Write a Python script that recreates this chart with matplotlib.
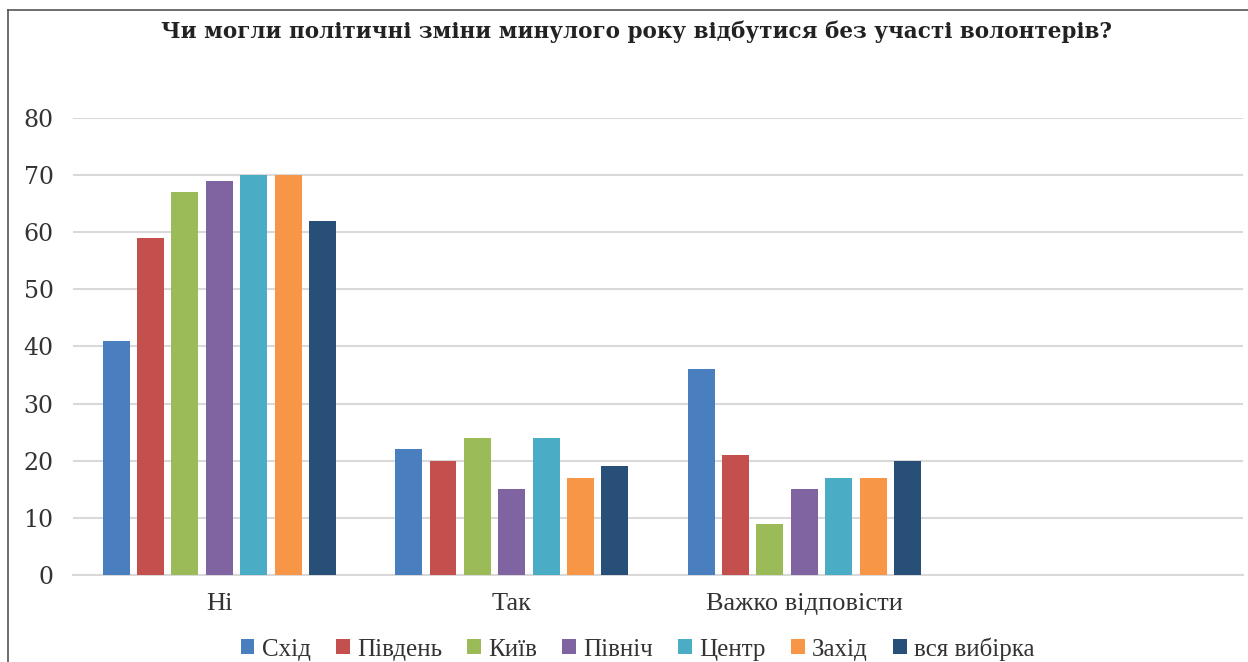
import numpy as np
import matplotlib
matplotlib.use('Agg')
import matplotlib.pyplot as plt
from matplotlib.lines import Line2D

categories = ['Ні', 'Так', 'Важко відповісти']
regions = ['Схід', 'Південь', 'Київ', 'Північ', 'Центр', 'Захід', 'вся вибірка']
east = [41, 22, 36]
south = [59, 20, 21]
kyiv = [67, 24, 9]
north = [69, 15, 15]
centre = [70, 24, 17]
west = [70, 17, 17]
total = [62, 19, 20]
series = [east, south, kyiv, north, centre, west, total]
colors = ['#4a7fbf', '#c4504e', '#9bbb59', '#8064a2', '#4bacc6', '#f79646', '#284f78']

fig = plt.figure(figsize=(12.48, 6.62), dpi=100)
ax = fig.add_axes([0.0585, 0.1314, 0.9375, 0.6904])

x = np.arange(len(categories))
pitch = 0.1176
width = 0.092
for i, (vals, c, name) in enumerate(zip(series, colors, regions)):
    ax.bar(x + (i - 3) * pitch, vals, width, color=c, label=name, zorder=3)

ax.set_xlim(-0.5, 3.5)
ax.set_ylim(0, 80)
ax.set_yticks(range(0, 81, 10))
ax.yaxis.grid(True, color='#d9d9d9', linewidth=1.5, zorder=0)
ax.set_xticks(x)
ax.set_xticklabels(categories, family='Liberation Serif', fontsize=19, color='#333333')
for lab in ax.get_yticklabels():
    lab.set_family('DejaVu Serif')
    lab.set_fontsize(17)
    lab.set_color('#333333')
ax.tick_params(axis='both', length=0)
ax.tick_params(axis='x', pad=13)
ax.tick_params(axis='y', pad=14)
for s in ['top', 'right', 'left']:
    ax.spines[s].set_visible(False)
ax.spines['bottom'].set_color('#d9d9d9')
ax.spines['bottom'].set_linewidth(1.5)

fig.text(0.51, 0.952, 'Чи могли політичні зміни минулого року відбутися без участі волонтерів?',
         ha='center', va='center', family='DejaVu Serif', fontweight='bold', fontsize=15.5, color='#222222')

leg = fig.legend(loc='center', bbox_to_anchor=(0.511, 0.02), ncol=7, frameon=False,
                 prop={'family': 'Liberation Serif', 'size': 18},
                 handlelength=0.55, handleheight=0.55, handletextpad=0.3, columnspacing=1.0)
for t in leg.get_texts():
    t.set_color('#333333')

fig.add_artist(Line2D([0.0064, 0.0064], [0, 0.985], transform=fig.transFigure, color='#555555', linewidth=1.2))
fig.add_artist(Line2D([0.0064, 1], [0.985, 0.985], transform=fig.transFigure, color='#555555', linewidth=1.2))

fig.savefig('out.png', dpi=100)
